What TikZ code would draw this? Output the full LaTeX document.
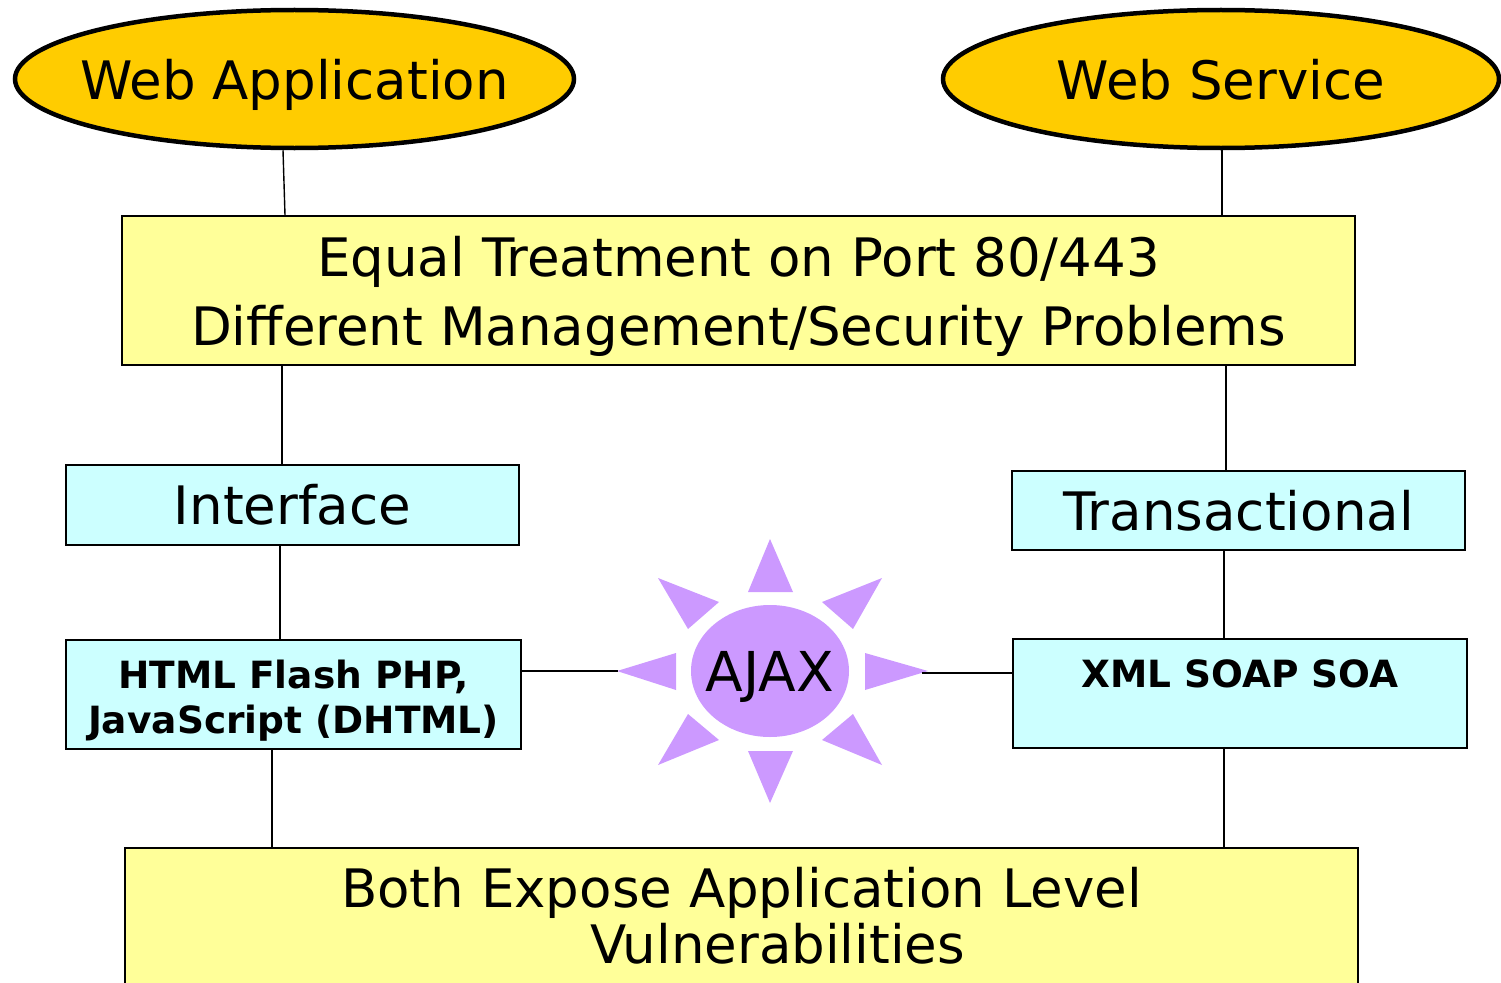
\documentclass[tikz,border=0pt]{standalone}
\usepackage{fontspec}
\setmainfont{DejaVu Sans}
\usetikzlibrary{shapes.geometric}

\definecolor{ovalfill}{HTML}{FFCC00}
\definecolor{paleyellow}{HTML}{FFFF99}
\definecolor{palecyan}{HTML}{CCFFFF}
\definecolor{lilac}{HTML}{CC99FF}

\tikzset{
  oval/.style={ellipse, draw=black, line width=4.5pt, fill=ovalfill, inner xsep=-20pt, inner ysep=0pt,
    text depth=0pt, font={\fontsize{53pt}{60pt}\selectfont}},
  yelbox/.style={rectangle, draw=black, line width=1.6pt, fill=paleyellow, inner sep=0pt,
    align=center},
  cyanbox/.style={rectangle, draw=black, line width=1.6pt, fill=palecyan, inner sep=0pt,
    align=center},
  bigtext/.style={font={\fontsize{53pt}{69pt}\selectfont}},
  boldtext/.style={font={\fontsize{37.5pt}{45pt}\selectfont\bfseries}},
  wire/.style={draw=black, line width=1.4pt},
  ray/.style={fill=lilac, draw=none}
}

\begin{document}
\begin{tikzpicture}[x=1pt, y=-1pt]
\useasboundingbox (0,0) rectangle (1501,982);
\clip (0,0) rectangle (1501,982);

% the two kinds of web traffic
\node[oval, minimum width=559pt, minimum height=138pt] (webapp) at (294.5,79) {Web Application};
\node[oval, minimum width=556pt, minimum height=138pt] (ws) at (1221,79) {Web Service};

% shared treatment on the wire
\node[yelbox, bigtext, minimum width=1233pt, minimum height=149pt] (equal) at (738.5,290.5)
  {\rule{0pt}{52pt}Equal Treatment on Port 80/443\\Different Management/Security Problems};

% the two flavours
\node[cyanbox, bigtext, minimum width=453pt, minimum height=80pt] (iface) at (292.5,505) {Interface};
\node[cyanbox, bigtext, minimum width=453pt, minimum height=79pt] (trans) at (1238.5,510.5) {Transactional};

% technologies
\node[cyanbox, boldtext, minimum width=455pt, minimum height=109pt] (html) at (293.5,694.5)
  {\rule{0pt}{41pt}HTML Flash PHP,\\JavaScript (DHTML)};
\node[cyanbox, boldtext, minimum width=454pt, minimum height=109pt] (xml) at (1240,693.5)
  {\rule{0pt}{46pt}XML SOAP SOA\\\strut};

% common consequence
\node[yelbox, font={\fontsize{53pt}{56pt}\selectfont}, minimum width=1233pt, minimum height=136pt] (both) at (741.5,916)
  {Both Expose Application Level\\\hspace*{72pt}Vulnerabilities};

% AJAX sun
\node[ellipse, fill=lilac, draw=none, minimum width=158pt, minimum height=132pt, inner sep=-10pt,
  text depth=0pt, font={\fontsize{55pt}{60pt}\selectfont}] (sun) at (770,671) {AJAX};
\begin{scope}[shift={(sun.center)}]
  \fill[ray] (0,-132) -- (-22,-79) -- (23,-79) -- cycle;
  \fill[ray] (0,132) -- (-22,80) -- (23,80) -- cycle;
  \fill[ray] (-153,0) -- (-94,-18) -- (-94,19) -- cycle;
  \fill[ray] (158,0) -- (95,-18) -- (95,19) -- cycle;
  \fill[ray] (-112,-93) -- (-51,-69) -- (-82,-42) -- cycle;
  \fill[ray] (112,-93) -- (52,-69) -- (83,-42) -- cycle;
  \fill[ray] (-112,94) -- (-82,43) -- (-51,69) -- cycle;
  \fill[ray] (112,94) -- (83,43) -- (52,69) -- cycle;
  \coordinate (rayW) at (-152,0);
  \coordinate (rayE) at (152,2);
\end{scope}

% connectors
\draw[wire] (webapp.south -| 283,0) -- (equal.north -| 285,0);
\draw[wire] (ws.south -| 1222,0) -- (equal.north -| 1222,0);
\draw[wire] (equal.south -| 282,0) -- (iface.north -| 282,0);
\draw[wire] (equal.south -| 1226,0) -- (trans.north -| 1226,0);
\draw[wire] (iface.south -| 280,0) -- (html.north -| 280,0);
\draw[wire] (trans.south -| 1224,0) -- (xml.north -| 1224,0);
\draw[wire] (html.south -| 272,0) -- (both.north -| 272,0);
\draw[wire] (xml.south -| 1224,0) -- (both.north -| 1224,0);
\draw[wire] (rayW -| html.east) -- (rayW);
\draw[wire] (rayE) -- (rayE -| xml.west);
\end{tikzpicture}
\end{document}
